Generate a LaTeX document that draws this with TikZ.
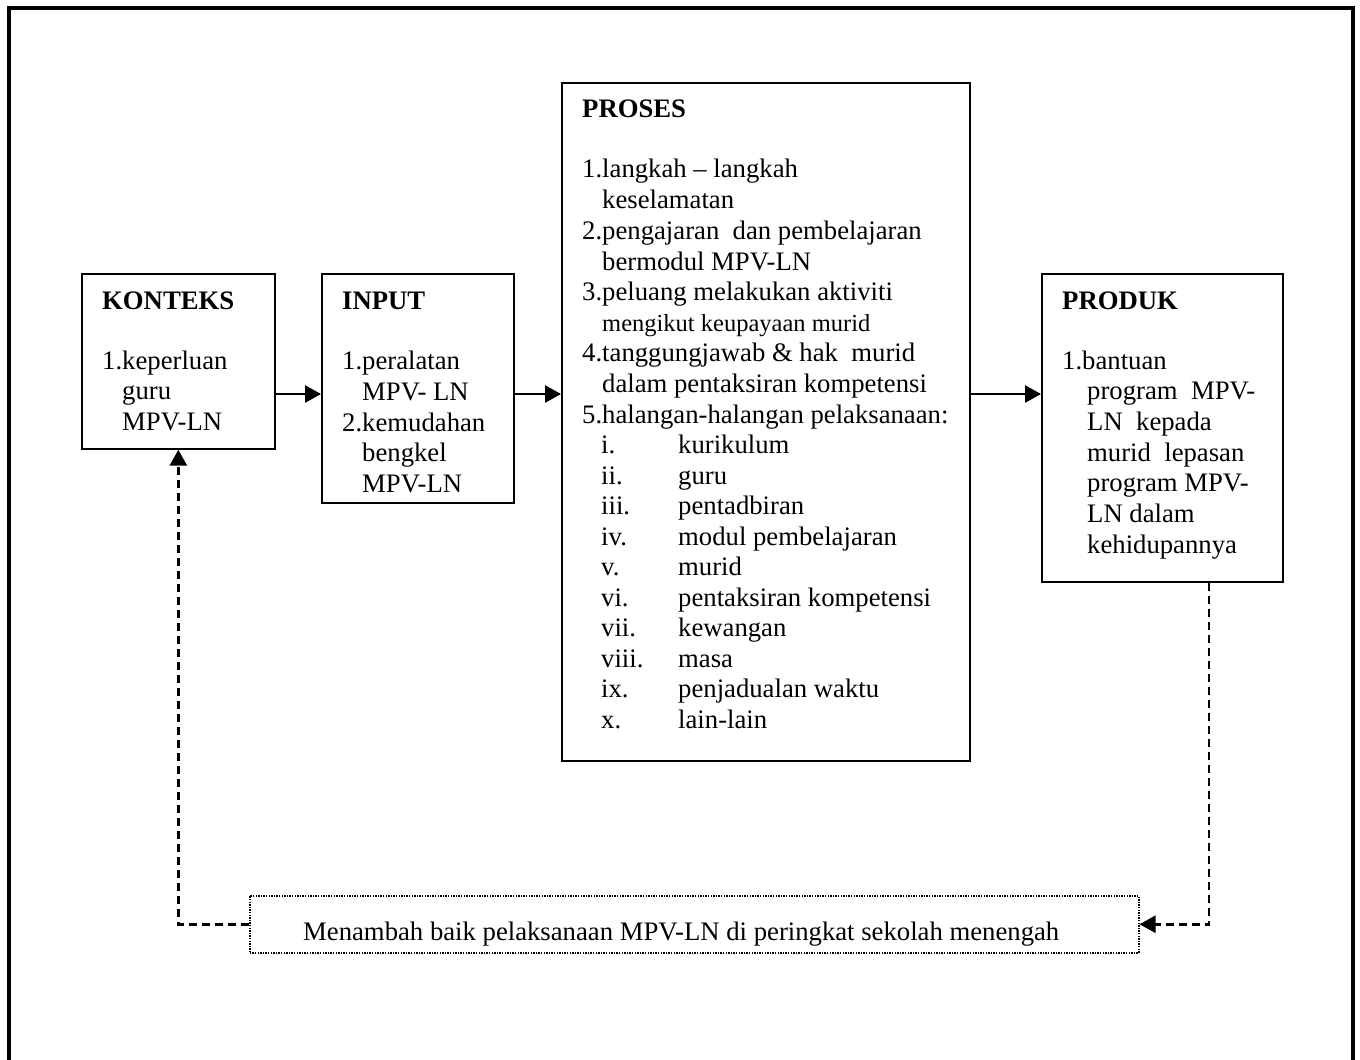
\documentclass[tikz,border=0pt]{standalone}
\usepackage{fontspec}
\setmainfont{Liberation Serif}
\usetikzlibrary{arrows.meta}
\newcommand{\fsn}{\fontsize{26.7pt}{30.6pt}\selectfont}
\newcommand{\fss}{\fontsize{24.5pt}{28pt}\selectfont}
\tikzset{
  box/.style={draw, line width=1.7pt, rectangle, inner sep=0pt, anchor=north west},
  dotbox/.style={draw, line width=1.5pt, dash pattern=on 1.4pt off 1.2pt, rectangle, inner sep=0pt, anchor=north west},
  txt/.style={anchor=base west, inner sep=0pt, font=\fsn},
  ttl/.style={anchor=base west, inner sep=0pt, font=\fsn\bfseries},
  arr/.style={line width=2.6pt, -{Triangle[length=16pt,width=17pt]}},
  fb/.style={line width=2.6pt, dash pattern=on 8pt off 5pt, -{Triangle[length=16pt,width=17pt]}}
}
\begin{document}
\begin{tikzpicture}[x=1pt,y=-1pt]
\useasboundingbox (0,0) rectangle (1360,1060);
% outer frame
\draw[line width=3.5pt] (9,1062) -- (9,8) -- (1353,8) -- (1353,1062);

% boxes
\node[box, minimum width=193pt, minimum height=175pt] (konteks) at (81,273) {};
\node[box, minimum width=192pt, minimum height=229pt] (input) at (321,273) {};
\node[box, minimum width=408pt, minimum height=678pt] (proses) at (561,82) {};
\node[box, minimum width=241pt, minimum height=308pt] (produk) at (1041,273) {};
\node[dotbox, minimum width=889pt, minimum height=57pt] (baik) at (249,895) {};

% titles
\node[ttl] (tk) at (102,309) {KONTEKS};
\node[ttl] (ti) at (342,309) {INPUT};
\node[ttl] (tp) at (582,117) {PROSES};
\node[ttl] (td) at (1062,309) {PRODUK};

% konteks text
\foreach \x/\y/\t [count=\i] in {102/369/1.keperluan, 122/399/guru, 122/430/MPV-LN}
  \node[txt] (k\i) at (\x,\y) {\t};

% input text
\foreach \x/\y/\t [count=\i] in {342/369/1.peralatan, 362/400/MPV- LN, 342/431/2.kemudahan, 362/461/bengkel, 362/492/MPV-LN}
  \node[txt] (n\i) at (\x,\y) {\t};

% proses text
\foreach \x/\y/\t [count=\i] in {
  582/177/{1.langkah \textendash\ langkah},
  602/208/keselamatan,
  582/239/{2.pengajaran~ dan pembelajaran},
  602/270/bermodul MPV-LN,
  582/300/3.peluang melakukan aktiviti,
  582/361/{4.tanggungjawab \& hak~ murid},
  602/392/dalam pentaksiran kompetensi,
  582/423/5.halangan-halangan pelaksanaan:}
  \node[txt] (p\i) at (\x,\y) {\t};
\node[txt, font=\fss] (p9) at (602,331) {mengikut keupayaan murid};

\foreach \y/\r/\t [count=\i] in {
  453/i./kurikulum, 484/ii./guru, 514/iii./pentadbiran, 545/iv./modul pembelajaran,
  575/v./murid, 606/vi./pentaksiran kompetensi, 636/vii./kewangan, 667/viii./masa,
  697/ix./penjadualan waktu, 728/x./lain-lain}
{
  \node[txt] (r\i) at (601,\y) {\r};
  \node[txt] (h\i) at (678,\y) {\t};
}

% produk text
\foreach \x/\y/\t [count=\i] in {1062/369/1.bantuan, 1087/399/program~ MPV-, 1087/430/LN~ kepada,
  1087/461/murid~ lepasan, 1087/491/program MPV-, 1087/522/LN dalam, 1087/553/kehidupannya}
  \node[txt] (d\i) at (\x,\y) {\t};

% bottom text
\node[txt] (bt) at (303,940) {Menambah baik pelaksanaan MPV-LN di peringkat sekolah menengah};

% connectors
\coordinate (ay) at (0,394);
\coordinate (fx) at (1209,920);
\draw[arr] (konteks.east |- ay) -- (input.west |- ay);
\draw[arr] (input.east |- ay) -- (proses.west |- ay);
\draw[arr] (proses.east |- ay) -- (produk.west |- ay);
\draw[fb] (fx |- produk.south) |- (baik.east);
\draw[fb] (baik.west) -| (konteks.south);
\end{tikzpicture}
\end{document}
